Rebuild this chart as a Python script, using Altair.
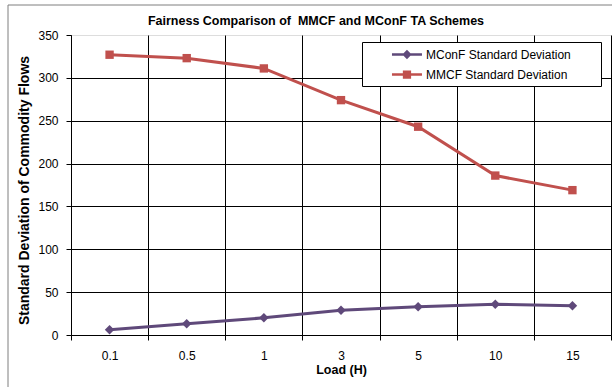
import altair as alt
import pandas as pd

# ---- data ----
loads = ["0.1", "0.5", "1", "3", "5", "10", "15"]
mconf_sd = [6, 13, 20, 29, 33, 36, 34]
mmcf_sd = [327, 323, 311, 274, 243, 186, 169]
series_names = ["MConF Standard Deviation", "MMCF Standard Deviation"]
series_colors = ["#5F497A", "#C0504D"]
y_ticks = [0, 50, 100, 150, 200, 250, 300, 350]

rows = []
for name, vals in zip(series_names, [mconf_sd, mmcf_sd]):
    for l, v in zip(loads, vals):
        rows.append({"load": l, "sd": v, "series": name})
df = pd.DataFrame(rows)

FONT = "Liberation Sans"
NBSP = "\u00a0"

color_scale = alt.Scale(domain=series_names, range=series_colors)

x_enc = alt.X(
    "load:N",
    sort=loads,
    bandPosition=0.5,
    scale=alt.Scale(type="band", paddingInner=0, paddingOuter=0),
    axis=alt.Axis(
        title="Load (H)",
        labelAngle=0,
        tickBand="extent",
        grid=True,
        gridColor="black",
        gridWidth=1,
        domainColor="black",
        tickColor="black",
        tickSize=5,
        labelFont=FONT,
        labelFontSize=12,
        labelColor="black",
        labelPadding=10,
        titleFont=FONT,
        titleFontSize=12.5,
        titleFontWeight="bold",
        titleColor="black",
        titleBaseline="alphabetic",
        titleY=38,
    ),
)

y_enc = alt.Y(
    "sd:Q",
    scale=alt.Scale(domain=[0, 350], nice=False),
    axis=alt.Axis(
        values=y_ticks,
        title="Standard Deviation of Commodity Flows",
        grid=True,
        gridColor="black",
        gridWidth=1,
        gridOpacity=alt.condition("datum.value == 350", alt.value(0), alt.value(1)),
        domainColor="black",
        tickColor="black",
        tickSize=5,
        labelFont=FONT,
        labelFontSize=12,
        labelColor="black",
        labelPadding=8,
        titleFont=FONT,
        titleFontSize=14,
        titleFontWeight="bold",
        titleColor="black",
        titleAngle=270,
        titleBaseline="alphabetic",
        titleAlign="center",
        titleX=-43,
        titleY=155,
    ),
)

frame = alt.Chart(pd.DataFrame({"k": [0]})).mark_rect(
    fillOpacity=0, stroke="#7F7F7F", strokeWidth=1
).encode(
    x=alt.value(-63), y=alt.value(-30), x2=alt.value(700), y2=alt.value(420)
)

base = alt.Chart(df)

# legend symbols: a short line with the series marker on it (unit = 7.5 px)
legend_shapes = [
    "M2.33,-0.17H6.33V0.17H2.33Z M4.33,-0.62L4.95,0L4.33,0.62L3.71,0Z",
    "M2.33,-0.17H6.33V0.17H2.33Z M3.78,-0.55H4.88V0.55H3.78Z",
]

legend_props = dict(
    # an invisible title on the right only widens the legend box
    title=".",
    titleOrient="right",
    titleColor="white",
    titleOpacity=0,
    titleFontSize=8,
    titlePadding=22,
    orient="none",
    legendX=291,
    legendY=7,
    padding=5,
    strokeColor="black",
    fillColor="white",
    symbolSize=225,
    symbolStrokeWidth=0,
    symbolOpacity=1,
    labelOffset=44,
    rowPadding=6,
    labelFont=FONT,
    labelFontSize=12,
    labelColor="black",
    labelLimit=400,
)

# legend-only layer (draws no marks); placed first so its legend settings win
legend_layer = base.transform_filter("false").mark_point(filled=True).encode(
    x=x_enc, y=y_enc,
    color=alt.Color("series:N", scale=color_scale, legend=alt.Legend(**legend_props)),
    shape=alt.Shape(
        "series:N",
        scale=alt.Scale(domain=series_names, range=legend_shapes),
        legend=alt.Legend(**legend_props),
    ),
)

lines = base.mark_line(strokeWidth=3).encode(
    x=x_enc, y=y_enc,
    color=alt.Color("series:N", scale=color_scale, legend=None),
)

pts_mconf = base.transform_filter(
    alt.datum.series == series_names[0]
).mark_point(filled=True, opacity=1, shape="diamond", size=90).encode(
    x=x_enc, y=y_enc,
    color=alt.Color("series:N", scale=color_scale, legend=None),
)

pts_mmcf = base.transform_filter(
    alt.datum.series == series_names[1]
).mark_point(filled=True, opacity=1, shape="square", size=70).encode(
    x=x_enc, y=y_enc,
    color=alt.Color("series:N", scale=color_scale, legend=None),
)

chart = alt.layer(frame, legend_layer, lines, pts_mconf, pts_mmcf).properties(
    width=540,
    height=300,
    title=alt.TitleParams(
        text="Fairness Comparison of " + NBSP + "MMCF and MConF TA Schemes",
        font=FONT,
        fontSize=12.5,
        fontWeight="bold",
        color="black",
        anchor="middle",
        baseline="alphabetic",
        offset=0,
        dx=-25,
        dy=33,
    ),
    autosize=alt.AutoSizeParams(type="none"),
    padding={"left": 71, "top": 35, "right": 1, "bottom": 52},
).configure_view(
    stroke="#A6A6A6", strokeWidth=1
).configure(background="white")

chart.save("out.html", embed_options={"renderer": "svg", "actions": False})
